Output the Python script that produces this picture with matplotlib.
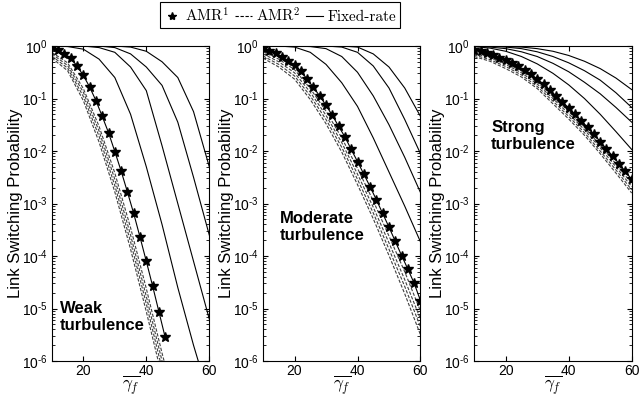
import numpy as np
import matplotlib.pyplot as plt
from matplotlib.lines import Line2D
from matplotlib.ticker import FuncFormatter

plt.rcParams['font.family'] = ['Liberation Sans', 'DejaVu Sans']
plt.rcParams['mathtext.fontset'] = 'custom'
plt.rcParams['mathtext.rm'] = 'Liberation Sans'
plt.rcParams['mathtext.it'] = 'Liberation Sans:italic'
plt.rcParams['mathtext.bf'] = 'Liberation Sans:bold'

# average SNR grids
snr_star = np.arange(10, 61, 2)
snr = np.arange(10, 61, 5)

# all values are log10 of the link switching probability
# --- weak turbulence
weak_amr1 = [-0.025, -0.076, -0.15, -0.23, -0.38, -0.56, -0.78, -1.04, -1.34, -1.65,
             -2.01, -2.38, -2.78, -3.19, -3.64, -4.10, -4.57, -5.06, -5.55]
weak_amr2 = [
    [-0.12, -0.32, -0.81, -1.53, -2.42, -3.46, -4.62, -5.85, -7.0, -8.0, -9.0],
    [-0.15, -0.37, -0.88, -1.62, -2.54, -3.60, -4.77, -6.00, -7.2, -8.2, -9.2],
    [-0.19, -0.42, -0.96, -1.72, -2.66, -3.73, -4.91, -6.15, -7.3, -8.3, -9.3],
    [-0.23, -0.47, -1.04, -1.83, -2.78, -3.87, -5.06, -6.30, -7.5, -8.5, -9.5],
]
weak_fixed = [
    [0.0, -0.01, -0.06, -0.25, -0.60, -1.30, -2.30, -3.40, -4.60, -5.70, -6.70],
    [0.0, 0.0, 0.0, -0.03, -0.12, -0.40, -0.85, -1.90, -3.00, -4.10, -5.20],
    [0.0, 0.0, 0.0, 0.0, -0.03, -0.15, -0.40, -0.75, -1.45, -2.50, -3.60],
    [0.0, 0.0, 0.0, 0.0, 0.0, -0.02, -0.10, -0.30, -0.60, -1.25, -2.30],
]

# --- moderate turbulence
mod_amr1 = [-0.04, -0.09, -0.14, -0.20, -0.28, -0.36, -0.48, -0.63, -0.79, -0.95,
            -1.13, -1.32, -1.53, -1.73, -1.97, -2.20, -2.44, -2.68, -2.93, -3.19,
            -3.45, -3.72, -3.99, -4.25, -4.52, -4.85]
mod_amr2 = [
    [-0.11, -0.25, -0.45, -0.81, -1.24, -1.75, -2.33, -2.95, -3.62, -4.30, -5.05],
    [-0.15, -0.30, -0.51, -0.88, -1.32, -1.84, -2.44, -3.07, -3.75, -4.45, -5.20],
    [-0.19, -0.35, -0.57, -0.95, -1.40, -1.93, -2.54, -3.18, -3.87, -4.58, -5.35],
    [-0.23, -0.40, -0.63, -1.02, -1.48, -2.02, -2.64, -3.29, -3.99, -4.72, -5.50],
]
mod_fixed = [
    [0.0, 0.0, -0.02, -0.12, -0.35, -0.70, -1.15, -1.75, -2.40, -3.05, -3.73],
    [0.0, 0.0, 0.0, -0.01, -0.05, -0.20, -0.50, -0.95, -1.50, -2.12, -2.79],
    [0.0, 0.0, 0.0, 0.0, 0.0, -0.02, -0.12, -0.38, -0.80, -1.40, -2.05],
    [0.0, 0.0, 0.0, 0.0, 0.0, 0.0, -0.02, -0.15, -0.40, -0.80, -1.34],
]

# --- strong turbulence
strong_amr1 = [-0.07, -0.10, -0.13, -0.17, -0.22, -0.27, -0.33, -0.39, -0.46, -0.54,
               -0.63, -0.73, -0.84, -0.95, -1.06, -1.18, -1.30, -1.42, -1.55, -1.68,
               -1.82, -1.96, -2.10, -2.24, -2.39, -2.54]
strong_amr2 = [
    [-0.11, -0.195, -0.32, -0.475, -0.69, -0.96, -1.245, -1.55, -1.89, -2.245, -2.62],
    [-0.14, -0.225, -0.35, -0.51, -0.725, -1.00, -1.29, -1.595, -1.94, -2.30, -2.68],
    [-0.17, -0.26, -0.39, -0.55, -0.77, -1.05, -1.34, -1.65, -2.00, -2.36, -2.74],
    [-0.20, -0.29, -0.43, -0.59, -0.81, -1.10, -1.39, -1.70, -2.05, -2.42, -2.80],
]
strong_fixed = [
    [-0.01, -0.04, -0.10, -0.20, -0.34, -0.52, -0.74, -1.00, -1.30, -1.63, -1.97],
    [0.0, -0.02, -0.05, -0.11, -0.20, -0.33, -0.49, -0.69, -0.91, -1.17, -1.45],
    [0.0, 0.0, -0.02, -0.05, -0.11, -0.20, -0.32, -0.47, -0.65, -0.89, -1.17],
    [0.0, 0.0, -0.01, -0.02, -0.05, -0.10, -0.18, -0.29, -0.43, -0.61, -0.83],
]

panels = [
    (weak_amr1, weak_amr2, weak_fixed, 'Weak\nturbulence', (0.05, 0.19)),
    (mod_amr1, mod_amr2, mod_fixed, 'Moderate\nturbulence', (0.108, 0.475)),
    (strong_amr1, strong_amr2, strong_fixed, 'Strong\nturbulence', (0.108, 0.765)),
]
lefts = [0.081, 0.411, 0.741]


def decade_label(v, pos):
    e = int(round(np.log10(v)))
    if e < 0:
        return r'$\mathregular{10^{\text{-}%d}}$' % (-e)
    return r'$\mathregular{10^{%d}}$' % e


fig = plt.figure(figsize=(6.4, 3.95), dpi=100)
for left, (amr1, amr2, fixed, name, pos) in zip(lefts, panels):
    ax = fig.add_axes([left, 0.086, 0.246, 0.7975])
    for curve in fixed:
        ax.plot(snr, 10.0 ** np.array(curve), color='k', lw=0.8)
    for curve in amr2:
        ax.plot(snr, 10.0 ** np.array(curve), color='0.25', lw=0.8, ls=(0, (3, 1.5)))
    xs = snr_star[:len(amr1)]
    ax.plot(xs, 10.0 ** np.array(amr1), color='k', lw=0.8, marker='*', ms=7)
    ax.set_yscale('log')
    ax.set_xlim(10, 60)
    ax.set_ylim(1e-6, 1)
    ax.set_xticks([20, 40, 60])
    ax.yaxis.set_major_formatter(FuncFormatter(decade_label))
    ax.tick_params(which='both', direction='in', top=True, right=True, labelsize=10)
    ax.tick_params(axis='x', pad=2)
    ax.tick_params(axis='y', pad=3)
    ax.tick_params(which='major', length=3.5)
    ax.tick_params(which='minor', length=2)
    ax.set_ylabel('Link Switching Probability', fontsize=12)
    ax.yaxis.set_label_coords(-0.185, 0.5)
    xl = ax.set_xlabel(r'$\overline{\gamma_f}$', fontsize=12.5, labelpad=-3)
    xl.set_math_fontfamily('cm')
    ax.text(pos[0], pos[1], name, transform=ax.transAxes, fontsize=12,
            fontweight='bold', va='top', ha='left', linespacing=1.15)

handles = [
    Line2D([], [], color='k', marker='*', ls='none', ms=6),
    Line2D([], [], color='k', lw=0.8, ls=(0, (3, 1.5))),
    Line2D([], [], color='k', lw=0.8),
]
labels = [r'AMR$^1$', r'AMR$^2$', 'Fixed-rate']
leg = fig.legend(handles, labels, loc='upper center', bbox_to_anchor=(0.4375, 1.0),
                 ncol=3, fancybox=False, edgecolor='k', framealpha=1,
                 prop={'family': 'cmr10', 'size': 11}, handlelength=1.1,
                 handletextpad=0.3, columnspacing=0.4, borderpad=0.25,
                 borderaxespad=0.15)
leg.get_frame().set_linewidth(0.8)
for t in leg.get_texts():
    t.set_math_fontfamily('cm')

fig.savefig('out.png', dpi=100)
